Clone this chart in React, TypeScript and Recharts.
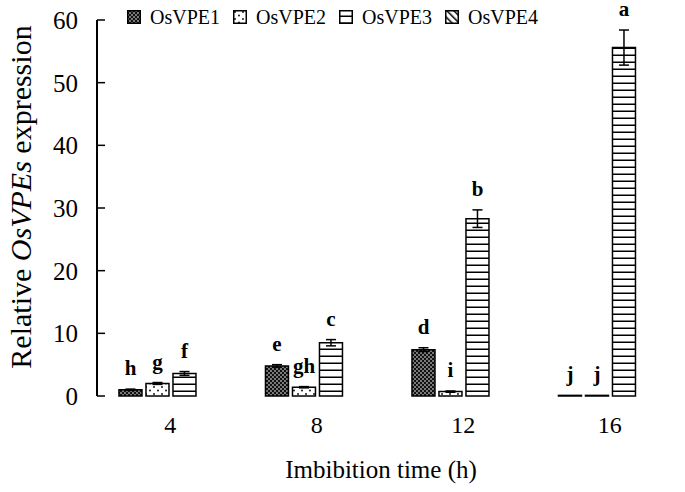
import React from 'react';
import { BarChart, Bar, XAxis, YAxis, ErrorBar, LabelList, Legend, Label } from 'recharts';

const categories = ['4', '8', '12', '16'];
const vpe1 = [1.0, 4.8, 7.4, 0.1];
const vpe2 = [2.0, 1.4, 0.7, 0.1];
const vpe3 = [3.6, 8.5, 28.3, 55.6];
const vpe4 = [0, 0, 0, 0];
const err1 = [0.1, 0.2, 0.3, 0];
const err2 = [0.15, 0.1, 0.1, 0];
const err3 = [0.3, 0.5, 1.4, 2.8];
const letters1 = ['h', 'e', 'd', 'j'];
const letters2 = ['g', 'gh', 'i', 'j'];
const letters3 = ['f', 'c', 'b', 'a'];
const yTicks = [0, 10, 20, 30, 40, 50, 60];
const boundaryTicks = [0, 1, 2, 3, 4];

const seriesNames = ['OsVPE1', 'OsVPE2', 'OsVPE3', 'OsVPE4'];
const patternIds = ['p1', 'p2', 'p3', 'p4'];

const data = categories.map((c, i) => ({
  cat: c,
  v1: vpe1[i], v2: vpe2[i], v3: vpe3[i], v4: vpe4[i],
  e1: err1[i], e2: err2[i], e3: err3[i],
}));

const FONT = '"Liberation Serif", "Times New Roman", serif';

function makeLetterLabel(letters: string[], errs: number[]) {
  return (props: any) => {
    const { x, y, width, height, value, index } = props;
    const v = Number(value);
    const ppu = v > 0 ? Number(height) / v : 0;
    const errPx = (errs[index] || 0) * ppu;
    return (
      <text
        x={Number(x) + Number(width) / 2}
        y={Number(y) - errPx - 14}
        textAnchor="middle"
        fontWeight="bold"
        fontSize={21}
        fontFamily={FONT}
        fill="#000"
      >
        {letters[index]}
      </text>
    );
  };
}

const LegendContent = () => (
  <div style={{ display: 'flex', fontFamily: FONT, fontSize: 20, color: '#000', lineHeight: '24px' }}>
    {seriesNames.map((n, i) => (
      <div key={n} style={{ display: 'flex', alignItems: 'center', width: 106 }}>
        <svg width={14} height={14} style={{ marginRight: 9 }}>
          <rect x={0.75} y={0.75} width={12.5} height={12.5} fill={`url(#${patternIds[i]})`} stroke="#000" strokeWidth={1.5} />
        </svg>
        <span>{n}</span>
      </div>
    ))}
  </div>
);

const YLabel = () => (
  <text
    x={0}
    y={0}
    transform="translate(31, 197) rotate(-90)"
    textAnchor="middle"
    fontSize={30}
    fontFamily={FONT}
    fill="#000"
  >
    Relative <tspan fontStyle="italic">OsVPEs</tspan> expression
  </text>
);

export default function App() {
  return (
    <div style={{ position: 'absolute', left: 0, top: 0, background: '#fff' }}>
      <BarChart
        width={685}
        height={492}
        data={data}
        margin={{ top: 20, right: 2, bottom: 0, left: 0 }}
        barCategoryGap="15%"
        barGap={4}
      >
        <defs>
          <pattern id="p1" width="4" height="4" patternUnits="userSpaceOnUse">
            <rect width="4" height="4" fill="#111" />
            <circle cx="1" cy="1" r="0.8" fill="#fff" />
            <circle cx="3" cy="3" r="0.8" fill="#fff" />
          </pattern>
          <pattern id="p2" width="8" height="7" patternUnits="userSpaceOnUse">
            <rect width="8" height="7" fill="#fff" />
            <circle cx="2" cy="2" r="0.9" fill="#000" />
            <circle cx="6" cy="5.5" r="0.9" fill="#000" />
          </pattern>
          <pattern id="p3" width="8" height="7" patternUnits="userSpaceOnUse">
            <rect width="8" height="7" fill="#fff" />
            <rect x="0" y="5.5" width="8" height="1.5" fill="#000" />
          </pattern>
          <pattern id="p4" width="5" height="5" patternUnits="userSpaceOnUse" patternTransform="rotate(-45)">
            <rect width="5" height="5" fill="#fff" />
            <rect x="0" y="0" width="1.5" height="5" fill="#000" />
          </pattern>
        </defs>
        <XAxis
          xAxisId="b"
          type="number"
          domain={[0, 4]}
          ticks={boundaryTicks}
          height={0}
          tick={false}
          tickSize={-10}
          stroke="#000"
          strokeWidth={1.5}
          axisLine={{ stroke: '#000', strokeWidth: 2 }}
          tickLine={{ stroke: '#000', strokeWidth: 1.5 }}
        />
        <XAxis
          dataKey="cat"
          height={96}
          axisLine={false}
          tickLine={false}
          tickMargin={14}
          tick={{ fontSize: 24, fontFamily: FONT, fill: '#000' }}
          interval={0}
        >
          <Label
            content={(props: any) => {
              const vb = props.viewBox || {};
              return (
                <text
                  x={vb.x + vb.width / 2 - 9}
                  y={vb.y + 82}
                  textAnchor="middle"
                  fontSize={25}
                  fontFamily={FONT}
                  fill="#000"
                >
                  Imbibition time (h)
                </text>
              );
            }}
          />
        </XAxis>
        <YAxis
          width={97}
          domain={[0, 60]}
          ticks={yTicks}
          tickSize={-8}
          tickMargin={27}
          interval={0}
          axisLine={{ stroke: '#000', strokeWidth: 2 }}
          tickLine={{ stroke: '#000', strokeWidth: 1.5 }}
          tick={{ fontSize: 25, fontFamily: FONT, fill: '#000' }}
          label={<YLabel />}
        />
        <Legend
          verticalAlign="middle"
          layout="horizontal"
          wrapperStyle={{ top: 5, left: 127, width: 460 }}
          content={<LegendContent />}
        />
        <Bar dataKey="v1" name="OsVPE1" fill="url(#p1)" stroke="#000" strokeWidth={1.5} isAnimationActive={false}>
          <ErrorBar dataKey="e1" width={5} stroke="#000" strokeWidth={1.5} />
          <LabelList dataKey="v1" content={makeLetterLabel(letters1, err1)} />
        </Bar>
        <Bar dataKey="v2" name="OsVPE2" fill="url(#p2)" stroke="#000" strokeWidth={1.5} isAnimationActive={false}>
          <ErrorBar dataKey="e2" width={5} stroke="#000" strokeWidth={1.5} />
          <LabelList dataKey="v2" content={makeLetterLabel(letters2, err2)} />
        </Bar>
        <Bar dataKey="v3" name="OsVPE3" fill="url(#p3)" stroke="#000" strokeWidth={1.5} isAnimationActive={false}>
          <ErrorBar dataKey="e3" width={5} stroke="#000" strokeWidth={1.5} />
          <LabelList dataKey="v3" content={makeLetterLabel(letters3, err3)} />
        </Bar>
        <Bar dataKey="v4" name="OsVPE4" fill="url(#p4)" stroke="#000" strokeWidth={1.5} isAnimationActive={false} />
      </BarChart>
    </div>
  );
}
